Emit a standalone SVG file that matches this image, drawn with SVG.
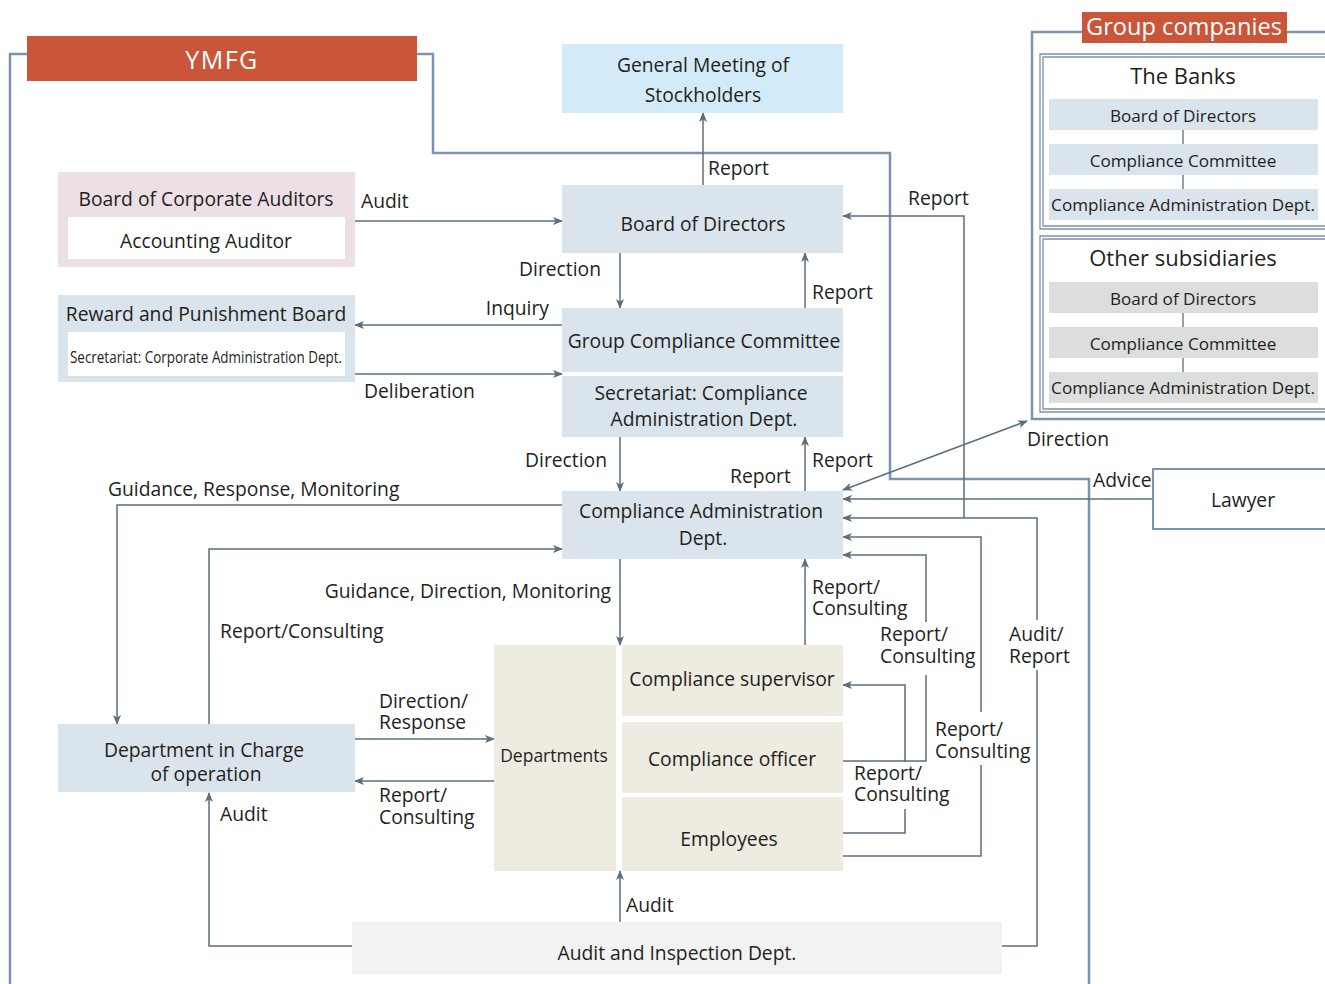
<svg xmlns="http://www.w3.org/2000/svg" width="1325" height="984" viewBox="0 0 1325 984">
<defs>
<marker id="ah" viewBox="0 0 10 8" refX="9" refY="4" markerWidth="10" markerHeight="8" markerUnits="userSpaceOnUse" orient="auto-start-reverse">
<path d="M0,0 L10,4 L0,8 L2.5,4 z" fill="#5d6f7d"/>
</marker>
<style>
text{font-family:"Open Sans","Noto Sans","Liberation Sans",sans-serif;fill:#231f20;font-size:19.3px;dominant-baseline:central}
.c{text-anchor:middle}
.e{text-anchor:end}
.blue{fill:#dae4ec}
.sky{fill:#d3ebf8}
.pink{fill:#ecdfe5}
.beige{fill:#eeebe0}
.grey{fill:#f2f2f2}
.sub{fill:#dcdddd}
.white{fill:#ffffff}
.frame{fill:none;stroke:#7c92ae;stroke-width:2.5}
.thin{fill:none;stroke:#7c92ae;stroke-width:1.3}
.con{fill:none;stroke:#5d6f7d;stroke-width:1.5}
.arr{marker-end:url(#ah)}
.arr2{marker-start:url(#ah);marker-end:url(#ah)}
.red{fill:#cb5538}
.wt{fill:#ffffff}
.sm{font-size:17.1px}
</style>
</defs>

<!-- Frames -->
<g id="frames">
<path class="frame" d="M27,54 H10 V984"/>
<path class="frame" d="M417,54 H433 V153 H890 V479 H1089 V984"/>
<path class="frame" d="M1082,32 H1032 V419 H1325"/>
<path class="frame" d="M1287,32 H1325"/>
</g>

<g id="ymfg">
<rect class="red" x="27" y="36" width="390" height="45"/>
<text class="c wt" x="222" y="59" style="font-size:25px;letter-spacing:1.5px">YMFG</text>
</g>

<!-- Group companies -->
<g id="group-companies">
<rect class="red" x="1082" y="12" width="205" height="31"/>
<text class="c wt" x="1184" y="26" style="font-size:23.6px">Group companies</text>
</g>

<g id="banks">
<path class="thin" d="M1325,54 H1040 V229 H1325"/>
<path class="thin" d="M1325,57 H1043 V226 H1325"/>
<text class="c" x="1183" y="75" style="font-size:22px">The Banks</text>
<line class="thin" x1="1183" y1="130" x2="1183" y2="144" style="stroke:#5d6f7d"/>
<line class="thin" x1="1183" y1="175" x2="1183" y2="189" style="stroke:#5d6f7d"/>
<rect class="blue" x="1049" y="99" width="269" height="31"/>
<text class="c sm" x="1183" y="115">Board of Directors</text>
<rect class="blue" x="1049" y="144" width="269" height="31"/>
<text class="c sm" x="1183" y="160">Compliance Committee</text>
<rect class="blue" x="1049" y="189" width="269" height="31"/>
<text class="c sm" x="1183" y="204">Compliance Administration Dept.</text>
</g>

<g id="other-subsidiaries">
<path class="thin" d="M1325,236 H1040 V412 H1325"/>
<path class="thin" d="M1325,239 H1043 V409 H1325"/>
<text class="c" x="1183" y="257" style="font-size:22px">Other subsidiaries</text>
<line class="thin" x1="1183" y1="313" x2="1183" y2="327" style="stroke:#5d6f7d"/>
<line class="thin" x1="1183" y1="358" x2="1183" y2="372" style="stroke:#5d6f7d"/>
<rect class="sub" x="1049" y="282" width="269" height="31"/>
<text class="c sm" x="1183" y="298">Board of Directors</text>
<rect class="sub" x="1049" y="327" width="269" height="31"/>
<text class="c sm" x="1183" y="343">Compliance Committee</text>
<rect class="sub" x="1049" y="372" width="269" height="31"/>
<text class="c sm" x="1183" y="387">Compliance Administration Dept.</text>
</g>

<!-- Connectors -->
<g id="connectors">
<path class="con arr" d="M703,185 V113"/>
<path class="con arr" d="M355,221 H562"/>
<path class="con arr" d="M620,253 V308"/>
<path class="con arr" d="M805,308 V253"/>
<path class="con arr" d="M562,325 H355"/>
<path class="con arr" d="M355,374 H562"/>
<path class="con arr" d="M620,437 V491"/>
<path class="con arr" d="M805,491 V437"/>
<path class="con arr" d="M964,518 V216 H843"/>
<path class="con" d="M1002,946 H1037 V670"/>
<path class="con arr" d="M1037,620 V518 H843"/>
<path class="con arr2" d="M843,490 L1027,421"/>
<path class="con arr" d="M1153,499 H843"/>
<path class="con" d="M843,856 H981 V765"/>
<path class="con arr" d="M981,712 V537 H843"/>
<path class="con" d="M843,761 H926 V675"/>
<path class="con arr" d="M926,622 V555 H843"/>
<path class="con" d="M843,833 H905 V809"/>
<path class="con arr" d="M905,762 V685 H843"/>
<path class="con arr" d="M805,645 V559"/>
<path class="con arr" d="M620,559 V645"/>
<path class="con arr" d="M562,505 H117 V724"/>
<path class="con arr" d="M209,724 V549 H562"/>
<path class="con arr" d="M355,739 H494"/>
<path class="con arr" d="M494,781 H355"/>
<path class="con arr" d="M352,946 H209 V793"/>
<path class="con arr" d="M620,922 V871"/>
</g>

<!-- Connector labels -->
<g id="labels">
<text x="708" y="167">Report</text>
<text x="361" y="200">Audit</text>
<text class="e" x="601" y="268">Direction</text>
<text x="812" y="291">Report</text>
<text class="e" x="549" y="307">Inquiry</text>
<text x="364" y="390">Deliberation</text>
<text class="e" x="607" y="459">Direction</text>
<text x="812" y="459">Report</text>
<text x="730" y="475">Report</text>
<text x="908" y="197">Report</text>
<text x="1027" y="438">Direction</text>
<text x="1093" y="479">Advice</text>
<text x="108" y="488">Guidance, Response, Monitoring</text>
<text class="e" x="611" y="590">Guidance, Direction, Monitoring</text>
<text x="220" y="630">Report/Consulting</text>
<text x="812" y="586">Report/</text>
<text x="812" y="607">Consulting</text>
<text x="880" y="633">Report/</text>
<text x="880" y="655">Consulting</text>
<text x="1009" y="633">Audit/</text>
<text x="1009" y="655">Report</text>
<text x="935" y="728">Report/</text>
<text x="935" y="750">Consulting</text>
<text x="854" y="772">Report/</text>
<text x="854" y="793">Consulting</text>
<text x="379" y="700">Direction/</text>
<text x="379" y="721">Response</text>
<text x="379" y="794">Report/</text>
<text x="379" y="816">Consulting</text>
<text x="220" y="813">Audit</text>
<text x="626" y="904">Audit</text>
</g>

<!-- Nodes -->
<g id="general-meeting">
<rect class="sky" x="562" y="44" width="281" height="69"/>
<text class="c" x="703" y="64">General Meeting of</text>
<text class="c" x="703" y="94">Stockholders</text>
</g>

<g id="board-of-directors">
<rect class="blue" x="562" y="185" width="281" height="68"/>
<text class="c" x="703" y="223">Board of Directors</text>
</g>

<g id="corporate-auditors">
<rect class="pink" x="58" y="172" width="297" height="95"/>
<text class="c" x="206" y="198">Board of Corporate Auditors</text>
<rect class="white" x="68" y="217" width="277" height="42"/>
<text class="c" x="206" y="240">Accounting Auditor</text>
</g>

<g id="reward-board">
<rect class="blue" x="58" y="295" width="297" height="87"/>
<text class="c" x="206" y="313">Reward and Punishment Board</text>
<rect class="white" x="68" y="332" width="277" height="44"/>
<text x="70" y="356" style="font-size:17px" textLength="272" lengthAdjust="spacingAndGlyphs">Secretariat: Corporate Administration Dept.</text>
</g>

<g id="group-compliance-committee">
<rect class="blue" x="562" y="308" width="281" height="64"/>
<text class="c" x="704" y="340">Group Compliance Committee</text>
</g>

<g id="secretariat">
<rect class="blue" x="562" y="376" width="281" height="61"/>
<text class="c" x="701" y="392">Secretariat: Compliance</text>
<text class="c" x="704" y="418">Administration Dept.</text>
</g>

<g id="compliance-admin-dept">
<rect class="blue" x="562" y="491" width="281" height="68"/>
<text class="c" x="701" y="510">Compliance Administration</text>
<text class="c" x="703" y="537">Dept.</text>
</g>

<g id="departments">
<rect class="beige" x="494" y="645" width="122" height="226"/>
<text class="c" x="554" y="755" style="font-size:17.5px">Departments</text>
</g>

<g id="compliance-supervisor">
<rect class="beige" x="622" y="645" width="221" height="71"/>
<text class="c" x="732" y="678">Compliance supervisor</text>
</g>

<g id="compliance-officer">
<rect class="beige" x="622" y="722" width="221" height="71"/>
<text class="c" x="732" y="758">Compliance officer</text>
</g>

<g id="employees">
<rect class="beige" x="622" y="797" width="221" height="74"/>
<text class="c" x="729" y="838">Employees</text>
</g>

<g id="dept-in-charge">
<rect class="blue" x="58" y="724" width="297" height="68"/>
<text class="c" x="204" y="749">Department in Charge</text>
<text class="c" x="206" y="773">of operation</text>
</g>

<g id="audit-inspection">
<rect class="grey" x="352" y="922" width="650" height="52"/>
<text class="c" x="677" y="952">Audit and Inspection Dept.</text>
</g>

<g id="lawyer">
<path class="frame" d="M1325,469 H1153 V529 H1325" style="stroke-width:2"/>
<text class="c" x="1243" y="499">Lawyer</text>
</g>
</svg>
